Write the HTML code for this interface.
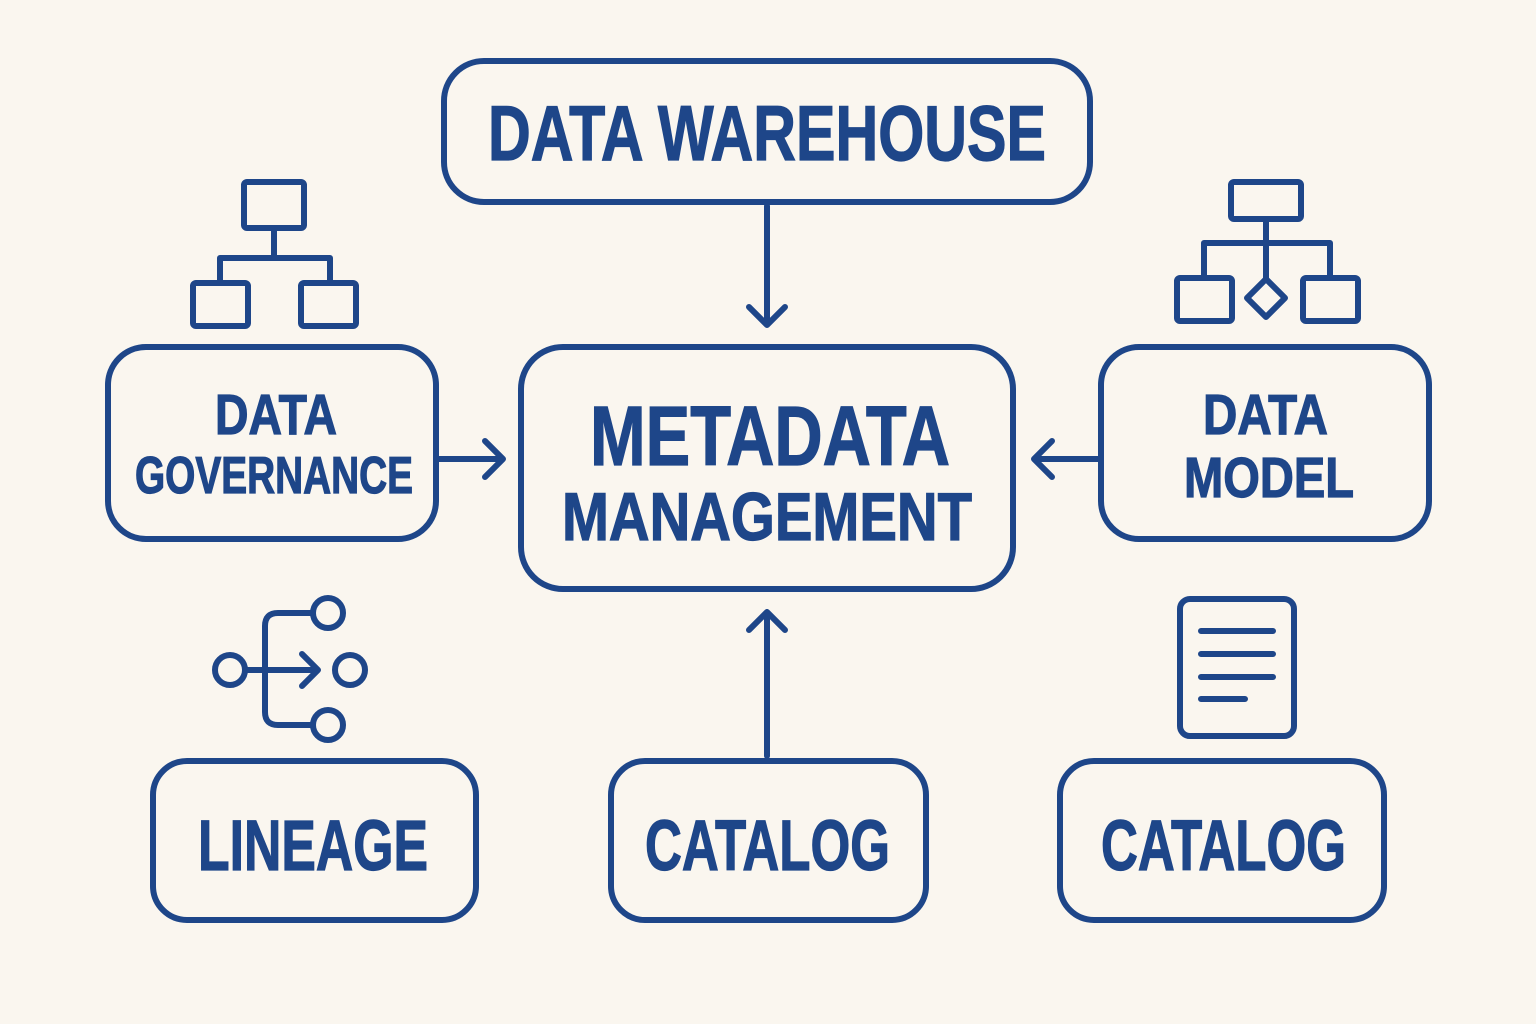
<!DOCTYPE html>
<html><head><meta charset="utf-8"><style>
html,body{margin:0;padding:0;background:#faf6ef;}
svg{display:block}
text{font-family:"Liberation Sans Narrow","Liberation Sans",sans-serif;font-weight:bold;fill:#1e4689;stroke:#1e4689;stroke-width:1.2;}
</style></head><body>
<svg width="1536" height="1024" viewBox="0 0 1536 1024" xmlns="http://www.w3.org/2000/svg">
<rect width="1536" height="1024" fill="#faf6ef"/>
<g fill="none" stroke="#1e4689" stroke-width="6" stroke-linecap="round" stroke-linejoin="round">
<rect x="444" y="61" width="646" height="141" rx="40"/>
<rect x="521" y="347" width="492" height="242" rx="42"/>
<rect x="108" y="347" width="328" height="192" rx="38"/>
<rect x="1101" y="347" width="328" height="192" rx="38"/>
<rect x="153" y="761" width="323" height="159" rx="34"/>
<rect x="611" y="761" width="315" height="159" rx="34"/>
<rect x="1060" y="761" width="324" height="159" rx="34"/>
<path d="M767 206 V325 M749 307 L767 325 L785 307"/>
<path d="M438 459 H503 M485 441 L503 459 L485 477"/>
<path d="M1099 459 H1034 M1052 441 L1034 459 L1052 477"/>
<path d="M767 756 V612 M749 630 L767 612 L785 630"/>
<rect x="244" y="182" width="60" height="46" rx="3"/>
<path d="M274 228 V258 M220 282 V258 H330 V282"/>
<rect x="193" y="283" width="55" height="43" rx="3"/>
<rect x="301" y="283" width="55" height="43" rx="3"/>
<rect x="1231" y="182" width="70" height="37" rx="3"/>
<path d="M1266 219 V279 M1204 277 V243 H1330 V277"/>
<rect x="1177" y="278" width="55" height="43" rx="3"/>
<rect x="1303" y="278" width="55" height="43" rx="3"/>
<path d="M1266 279 L1285 298 L1266 317 L1247 298 Z"/>
<circle cx="230" cy="670" r="15"/>
<circle cx="328" cy="613" r="15"/>
<circle cx="350" cy="670" r="15"/>
<circle cx="328" cy="725" r="15"/>
<path d="M245 670 H318 M302 654 L318 670 L302 686 M313 613 H278 Q265 613 265 626 V712 Q265 725 278 725 H313"/>
<rect x="1180" y="599" width="114" height="137" rx="10"/>
<path d="M1201 631 H1273 M1201 654 H1273 M1201 677 H1273 M1201 699 H1245"/>
</g>
<text x="488" y="160" font-size="78" textLength="558" lengthAdjust="spacingAndGlyphs">DATA WAREHOUSE</text>
<text x="590" y="465" font-size="84" textLength="360" lengthAdjust="spacingAndGlyphs">METADATA</text>
<text x="562" y="540" font-size="68" textLength="410" lengthAdjust="spacingAndGlyphs">MANAGEMENT</text>
<text x="215" y="434" font-size="57" textLength="122" lengthAdjust="spacingAndGlyphs">DATA</text>
<text x="135" y="493" font-size="52" textLength="278" lengthAdjust="spacingAndGlyphs">GOVERNANCE</text>
<text x="1203" y="434" font-size="57" textLength="125" lengthAdjust="spacingAndGlyphs">DATA</text>
<text x="1184" y="497" font-size="57" textLength="170" lengthAdjust="spacingAndGlyphs">MODEL</text>
<text x="198" y="870" font-size="71" textLength="230" lengthAdjust="spacingAndGlyphs">LINEAGE</text>
<text x="645" y="870" font-size="71" textLength="245" lengthAdjust="spacingAndGlyphs">CATALOG</text>
<text x="1101" y="870" font-size="71" textLength="245" lengthAdjust="spacingAndGlyphs">CATALOG</text>
</svg>
</body></html>
